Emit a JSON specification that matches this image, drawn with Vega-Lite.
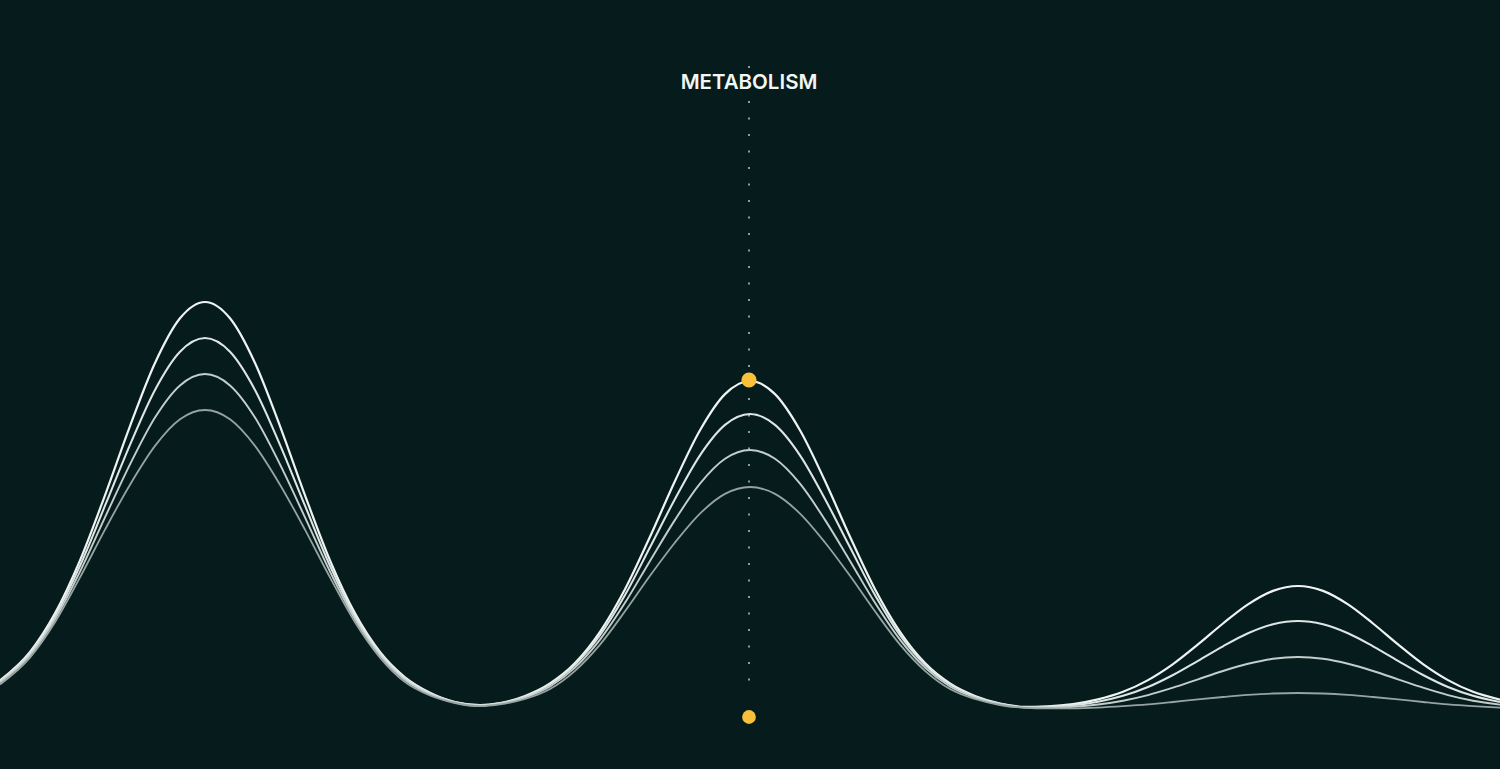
{
  "$schema": "https://vega.github.io/schema/vega-lite/v6.json",
  "autosize": {"type": "none"},
  "width": 1500,
  "height": 769,
  "padding": 0,
  "background": "#061c1c",
  "config": {"view": {"stroke": null}},
  "datasets": {
    "curves": [
      {"c":1,"x":0,"y":680.5},{"c":1,"x":30,"y":652.0},{"c":1,"x":55,"y":613.4},{"c":1,"x":80,"y":560.4},{"c":1,"x":105,"y":495.3},{"c":1,"x":130,"y":426.1},{"c":1,"x":155,"y":363.0},{"c":1,"x":180,"y":318.3},{"c":1,"x":205,"y":302},{"c":1,"x":230,"y":318.3},{"c":1,"x":255,"y":363.0},{"c":1,"x":280,"y":426.1},{"c":1,"x":305,"y":495.3},{"c":1,"x":330,"y":560.4},{"c":1,"x":355,"y":613.4},{"c":1,"x":380,"y":652.0},{"c":1,"x":405,"y":677.3},{"c":1,"x":430,"y":692.7},{"c":1,"x":455,"y":702.0},{"c":1,"x":480,"y":705.0},
      {"c":1,"x":500,"y":703.0},{"c":1,"x":525,"y":695.9},{"c":1,"x":550,"y":683.4},{"c":1,"x":575,"y":663.1},{"c":1,"x":600,"y":631.9},{"c":1,"x":625,"y":589.3},{"c":1,"x":650,"y":536.8},{"c":1,"x":675,"y":481.0},{"c":1,"x":700,"y":430.2},{"c":1,"x":725,"y":394.1},{"c":1,"x":750,"y":381},{"c":1,"x":775,"y":394.1},{"c":1,"x":800,"y":430.2},{"c":1,"x":825,"y":481.0},{"c":1,"x":850,"y":536.8},{"c":1,"x":875,"y":589.3},{"c":1,"x":900,"y":631.9},{"c":1,"x":925,"y":663.1},{"c":1,"x":950,"y":683.4},{"c":1,"x":975,"y":695.9},{"c":1,"x":1000,"y":703.5},{"c":1,"x":1025,"y":706.8},
      {"c":1,"x":1048,"y":706.3},{"c":1,"x":1073,"y":704.1},{"c":1,"x":1098,"y":699.4},{"c":1,"x":1123,"y":691.8},{"c":1,"x":1148,"y":680.1},{"c":1,"x":1173,"y":664.1},{"c":1,"x":1198,"y":644.4},{"c":1,"x":1223,"y":623.5},{"c":1,"x":1248,"y":604.4},{"c":1,"x":1273,"y":590.9},{"c":1,"x":1298,"y":586},{"c":1,"x":1323,"y":590.9},{"c":1,"x":1348,"y":604.4},{"c":1,"x":1373,"y":623.5},{"c":1,"x":1398,"y":644.4},{"c":1,"x":1423,"y":664.1},{"c":1,"x":1448,"y":680.1},{"c":1,"x":1473,"y":691.8},{"c":1,"x":1500,"y":699.6},

      {"c":2,"x":0,"y":681.2},{"c":2,"x":30,"y":653.3},{"c":2,"x":55,"y":616.2},{"c":2,"x":80,"y":565.8},{"c":2,"x":105,"y":505.7},{"c":2,"x":130,"y":444.8},{"c":2,"x":155,"y":389.9},{"c":2,"x":180,"y":351.7},{"c":2,"x":205,"y":338},{"c":2,"x":230,"y":351.7},{"c":2,"x":255,"y":389.9},{"c":2,"x":280,"y":444.8},{"c":2,"x":305,"y":505.7},{"c":2,"x":330,"y":565.8},{"c":2,"x":355,"y":616.2},{"c":2,"x":380,"y":653.3},{"c":2,"x":405,"y":678.2},{"c":2,"x":430,"y":693.4},{"c":2,"x":455,"y":702.2},{"c":2,"x":480,"y":705.3},
      {"c":2,"x":500,"y":703.3},{"c":2,"x":525,"y":696.6},{"c":2,"x":550,"y":684.5},{"c":2,"x":575,"y":664.7},{"c":2,"x":600,"y":635.2},{"c":2,"x":625,"y":595.1},{"c":2,"x":650,"y":547.3},{"c":2,"x":675,"y":499.0},{"c":2,"x":700,"y":455.3},{"c":2,"x":725,"y":424.9},{"c":2,"x":750,"y":414},{"c":2,"x":775,"y":424.9},{"c":2,"x":800,"y":455.3},{"c":2,"x":825,"y":499.0},{"c":2,"x":850,"y":547.3},{"c":2,"x":875,"y":595.1},{"c":2,"x":900,"y":635.2},{"c":2,"x":925,"y":664.7},{"c":2,"x":950,"y":684.5},{"c":2,"x":975,"y":696.6},{"c":2,"x":1000,"y":703.8},{"c":2,"x":1025,"y":707.1},
      {"c":2,"x":1048,"y":706.9},{"c":2,"x":1073,"y":705.3},{"c":2,"x":1098,"y":701.7},{"c":2,"x":1123,"y":695.8},{"c":2,"x":1148,"y":687.0},{"c":2,"x":1173,"y":675.0},{"c":2,"x":1198,"y":660.8},{"c":2,"x":1223,"y":646.3},{"c":2,"x":1248,"y":633.3},{"c":2,"x":1273,"y":624.3},{"c":2,"x":1298,"y":621},{"c":2,"x":1323,"y":624.3},{"c":2,"x":1348,"y":633.3},{"c":2,"x":1373,"y":646.3},{"c":2,"x":1398,"y":660.8},{"c":2,"x":1423,"y":675.0},{"c":2,"x":1448,"y":687.0},{"c":2,"x":1473,"y":695.8},{"c":2,"x":1500,"y":702.0},

      {"c":3,"x":0,"y":682.5},{"c":3,"x":30,"y":655.4},{"c":3,"x":55,"y":619.2},{"c":3,"x":80,"y":571.6},{"c":3,"x":105,"y":517.4},{"c":3,"x":130,"y":464.4},{"c":3,"x":155,"y":417.5},{"c":3,"x":180,"y":385.4},{"c":3,"x":205,"y":374},{"c":3,"x":230,"y":385.4},{"c":3,"x":255,"y":417.5},{"c":3,"x":280,"y":464.4},{"c":3,"x":305,"y":517.4},{"c":3,"x":330,"y":571.6},{"c":3,"x":355,"y":619.2},{"c":3,"x":380,"y":655.4},{"c":3,"x":405,"y":679.9},{"c":3,"x":430,"y":694.3},{"c":3,"x":455,"y":702.5},{"c":3,"x":480,"y":705.7},
      {"c":3,"x":500,"y":703.6},{"c":3,"x":525,"y":697.6},{"c":3,"x":550,"y":686.5},{"c":3,"x":575,"y":667.6},{"c":3,"x":600,"y":639.6},{"c":3,"x":625,"y":602.8},{"c":3,"x":650,"y":560.9},{"c":3,"x":675,"y":519.9},{"c":3,"x":700,"y":483.7},{"c":3,"x":725,"y":458.8},{"c":3,"x":750,"y":450},{"c":3,"x":775,"y":458.8},{"c":3,"x":800,"y":483.7},{"c":3,"x":825,"y":519.9},{"c":3,"x":850,"y":560.9},{"c":3,"x":875,"y":602.8},{"c":3,"x":900,"y":639.6},{"c":3,"x":925,"y":667.6},{"c":3,"x":950,"y":686.5},{"c":3,"x":975,"y":697.6},{"c":3,"x":1000,"y":704.2},{"c":3,"x":1025,"y":707.4},
      {"c":3,"x":1048,"y":707.6},{"c":3,"x":1073,"y":706.7},{"c":3,"x":1098,"y":704.5},{"c":3,"x":1123,"y":700.7},{"c":3,"x":1148,"y":695.1},{"c":3,"x":1173,"y":687.7},{"c":3,"x":1198,"y":679.3},{"c":3,"x":1223,"y":671.0},{"c":3,"x":1248,"y":663.8},{"c":3,"x":1273,"y":658.8},{"c":3,"x":1298,"y":657},{"c":3,"x":1323,"y":658.8},{"c":3,"x":1348,"y":663.8},{"c":3,"x":1373,"y":671.0},{"c":3,"x":1398,"y":679.3},{"c":3,"x":1423,"y":687.7},{"c":3,"x":1448,"y":695.1},{"c":3,"x":1473,"y":700.7},{"c":3,"x":1500,"y":704.6},

      {"c":4,"x":0,"y":684.5},{"c":4,"x":30,"y":657.6},{"c":4,"x":55,"y":622.3},{"c":4,"x":80,"y":577.4},{"c":4,"x":105,"y":529.6},{"c":4,"x":130,"y":484.7},{"c":4,"x":155,"y":445.9},{"c":4,"x":180,"y":419.3},{"c":4,"x":205,"y":410},{"c":4,"x":230,"y":419.3},{"c":4,"x":255,"y":445.9},{"c":4,"x":280,"y":484.7},{"c":4,"x":305,"y":529.6},{"c":4,"x":330,"y":577.4},{"c":4,"x":355,"y":622.3},{"c":4,"x":380,"y":657.6},{"c":4,"x":405,"y":682.1},{"c":4,"x":430,"y":695.5},{"c":4,"x":455,"y":703.0},{"c":4,"x":480,"y":706.2},
      {"c":4,"x":500,"y":704.4},{"c":4,"x":525,"y":699.0},{"c":4,"x":550,"y":689.0},{"c":4,"x":575,"y":670.8},{"c":4,"x":600,"y":644.6},{"c":4,"x":625,"y":611.3},{"c":4,"x":650,"y":575.8},{"c":4,"x":675,"y":542.5},{"c":4,"x":700,"y":513.6},{"c":4,"x":725,"y":493.9},{"c":4,"x":750,"y":487},{"c":4,"x":775,"y":493.9},{"c":4,"x":800,"y":513.6},{"c":4,"x":825,"y":542.5},{"c":4,"x":850,"y":575.8},{"c":4,"x":875,"y":611.3},{"c":4,"x":900,"y":644.6},{"c":4,"x":925,"y":670.8},{"c":4,"x":950,"y":689.0},{"c":4,"x":975,"y":699.0},{"c":4,"x":1000,"y":705.0},{"c":4,"x":1025,"y":707.8},
      {"c":4,"x":1048,"y":708.3},{"c":4,"x":1073,"y":708.3},{"c":4,"x":1098,"y":707.6},{"c":4,"x":1123,"y":706.2},{"c":4,"x":1148,"y":704.4},{"c":4,"x":1173,"y":702.0},{"c":4,"x":1198,"y":699.4},{"c":4,"x":1223,"y":697.0},{"c":4,"x":1248,"y":694.9},{"c":4,"x":1273,"y":693.5},{"c":4,"x":1298,"y":693},{"c":4,"x":1323,"y":693.5},{"c":4,"x":1348,"y":694.9},{"c":4,"x":1373,"y":697.0},{"c":4,"x":1398,"y":699.4},{"c":4,"x":1423,"y":702.0},{"c":4,"x":1448,"y":704.4},{"c":4,"x":1473,"y":706.2},{"c":4,"x":1500,"y":707.7}
    ],
    "guide": [
      {"x": 749, "y": 66, "y2": 68.5},
      {"x": 749, "y": 101, "y2": 695}
    ],
    "markers": [
      {"x": 749, "y": 380, "s": 230},
      {"x": 749, "y": 717, "s": 190}
    ],
    "label": [
      {"x": 749, "y": 89, "t": "METABOLISM"}
    ]
  },
  "layer": [
    {
      "data": {"name": "guide"},
      "mark": {"type": "rule", "color": "#8a9c9a", "strokeWidth": 2, "strokeDash": [2, 14.5]},
      "encoding": {
        "x": {"field": "x", "type": "quantitative", "scale": {"domain": [0, 1500], "nice": false, "zero": false}, "axis": null},
        "y": {"field": "y", "type": "quantitative", "scale": {"domain": [0, 769], "nice": false, "zero": false, "reverse": true}, "axis": null},
        "y2": {"field": "y2"}
      }
    },
    {
      "data": {"name": "curves"},
      "mark": {"type": "line", "interpolate": "monotone"},
      "encoding": {
        "x": {"field": "x", "type": "quantitative", "scale": {"domain": [0, 1500], "nice": false, "zero": false}, "axis": null},
        "y": {"field": "y", "type": "quantitative", "scale": {"domain": [0, 769], "nice": false, "zero": false, "reverse": true}, "axis": null},
        "color": {"field": "c", "type": "nominal", "scale": {"domain": [1, 2, 3, 4], "range": ["#eef4f2", "#dde6e4", "#c3cecc", "#95a3a1"]}, "legend": null},
        "strokeWidth": {"field": "c", "type": "nominal", "scale": {"domain": [1, 2, 3, 4], "range": [2.2, 1.8, 1.4, 1.0]}, "legend": null}
      }
    },
    {
      "data": {"name": "markers"},
      "mark": {"type": "point", "shape": "circle", "filled": true, "color": "#f7c13c", "opacity": 1},
      "encoding": {
        "x": {"field": "x", "type": "quantitative", "scale": {"domain": [0, 1500], "nice": false, "zero": false}, "axis": null},
        "y": {"field": "y", "type": "quantitative", "scale": {"domain": [0, 769], "nice": false, "zero": false, "reverse": true}, "axis": null},
        "size": {"field": "s", "type": "quantitative", "scale": null, "legend": null}
      }
    },
    {
      "data": {"name": "label"},
      "mark": {"type": "text", "font": "Inter", "fontSize": 20.5, "fontWeight": 600, "color": "#f2f6f5", "align": "center", "baseline": "alphabetic", "letterSpacing": 0.8},
      "encoding": {
        "x": {"field": "x", "type": "quantitative", "scale": {"domain": [0, 1500], "nice": false, "zero": false}, "axis": null},
        "y": {"field": "y", "type": "quantitative", "scale": {"domain": [0, 769], "nice": false, "zero": false, "reverse": true}, "axis": null},
        "text": {"field": "t"}
      }
    }
  ]
}
